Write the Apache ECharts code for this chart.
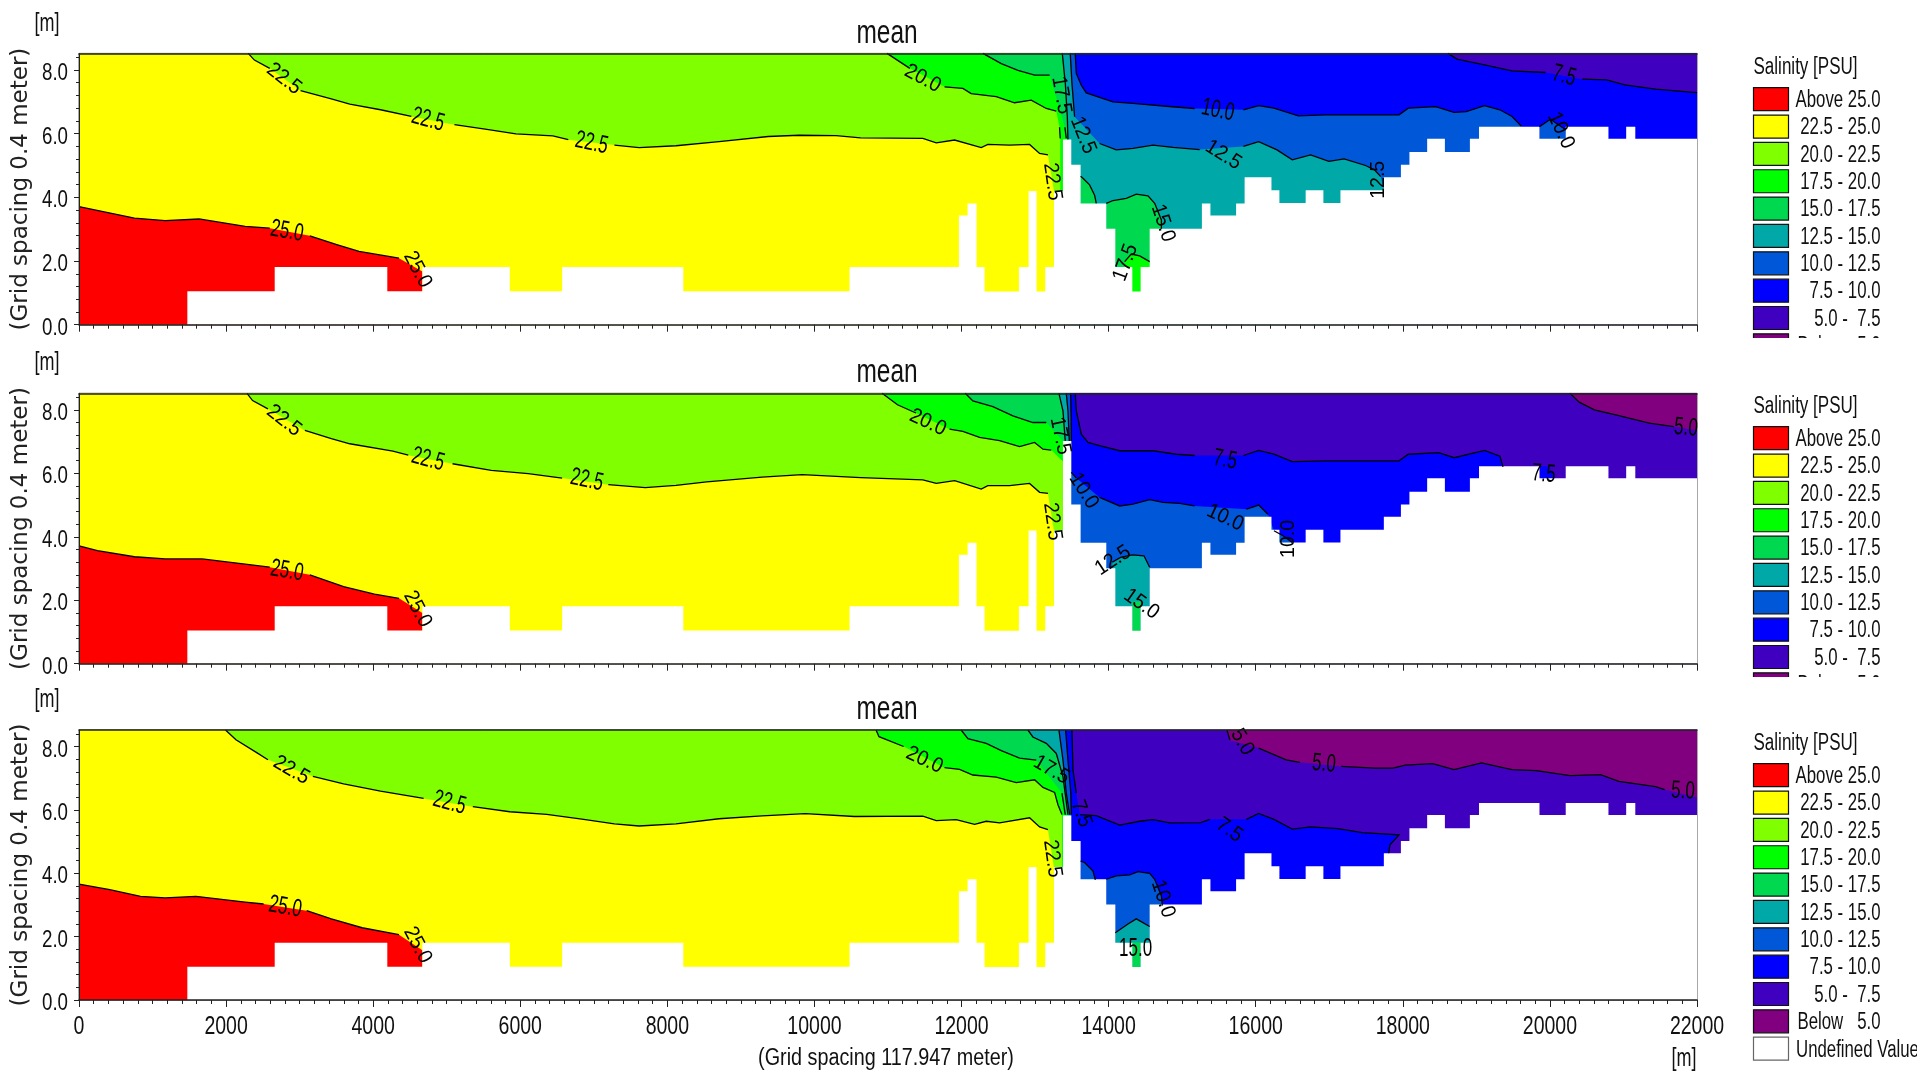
<!DOCTYPE html>
<html><head><meta charset="utf-8">
<style>html,body{margin:0;padding:0;background:#fff}#c{width:1917px;height:1080px}</style>
<script src="https://cdn.jsdelivr.net/npm/echarts@6/dist/echarts.min.js"></script>
</head><body><div id="c"></div>
<script>
const bandLabels = ['Above 25.0','22.5 - 25.0','20.0 - 22.5','17.5 - 20.0','15.0 - 17.5','12.5 - 15.0','10.0 - 12.5','7.5 - 10.0','5.0 -  7.5','Below   5.0','Undefined Value'];
const bandColors = ['#ff0000','#ffff00','#80ff00','#00ff00','#00d850','#00a8a8','#0058d8','#0000ff','#4000c0','#800080','#ffffff'];
const xTicksMajor = 2000, X_END = 22000, Y_TOP = 8.52;
const yTicksMajor = [0,2,4,6,8];
const yTicksMinor = [0.4,0.8,1.2,1.6,2.4,2.8,3.2,3.6,4.4,4.8,5.2,5.6,6.4,6.8,7.2,7.6,8.4];
const bedEdges  = [0,1473,2661,4192,4669,5858,6569,8217,10477,11964,12082,12204,12313,12780,12912,13020,13138,13256,13379,13492,13619,13968,14091,14322,14435,14558,15268,15384,15733,15849,16214,16322,16679,16920,17152,17742,17974,18090,18331,18572,18912,19036,19858,20215,20796,21037,21161,22000];
const bedLevels = [0,1.05,1.81,1.05,1.81,1.05,1.81,1.05,1.81,3.43,3.81,1.81,1.04,1.81,4.2,1.04,1.81,4.2,5.82,5.02,3.81,3.01,1.81,1.04,1.81,3.01,3.81,3.43,3.81,4.63,4.22,3.82,4.22,3.82,4.22,4.63,5.02,5.42,5.84,5.42,5.84,6.22,5.84,6.22,5.84,6.22,5.84];
const bedChannelEdge = 13379, bedChannelLevelMiddle = 7.02;

// Panel 1 contours (metres; null = gap for a contour label)
const p1Below25  = [[0,3.71],[753,3.35],[1171,3.27],[1632,3.32],[2259,3.09],[2594,3.03],null,[3138,2.79],[3515,2.51],[3808,2.3],[4351,2.09],null,[4669,1.67]];
const p1Below225 = [[2301,8.52],[2385,8.31],[2594,8.05],null,[3013,7.35],[3431,7.09],[3682,6.93],[4100,6.75],[4519,6.54],null,[5105,6.28],[5523,6.14],[5941,5.99],[6443,5.93],[6653,5.81],null,[7280,5.64],[7615,5.56],[8117,5.62],[8703,5.75],[9372,5.91],[9791,5.95],[10293,5.94],[10628,5.87],[11474,5.85],[11656,5.71],[11905,5.8],[12268,5.56],[12358,5.66],[12653,5.64],[12925,5.66],[13061,5.38],[13175,5.33],null,[13256,4.2]];
const p1Below20  = [[10987,8.52],[11297,8.05],null,[11769,7.47],[12018,7.42],[12131,7.26],[12472,7.16],[12721,6.97],[12948,7.05],[13152,6.79],[13288,6.71],null,[13332,6.2],[13342,5.85]];
const p1Below175 = [[12290,8.52],[12540,8.2],[12767,7.99],[12994,7.84],[13198,7.84],null,[13405,6.2],[13424,5.85]];
const p1Below15  = [[13370,8.52],[13411,7.57],[13438,6.53],[13447,5.82]];
const p1Below125 = [[13478,8.52],[13501,7.58],[13537,6.53],null,[13877,5.69],[14104,5.49],[14331,5.54],[14603,5.64],[14875,5.57],[15238,5.5],null,[15832,5.6],[16040,5.75],[16289,5.49],[16497,5.18],[16746,5.33],[16995,5.13],[17202,5.21],[17493,5.0],[17617,4.86],[17700,4.65],null,[17742,4.24]];
const p1Below10  = [[13546,8.52],[13560,7.89],[13628,7.52],[13696,7.28],[14059,7.0],[14331,6.95],[14785,6.86],[15170,6.79],null,[15832,6.75],[16040,6.88],[16248,6.8],[16580,6.56],[16953,6.59],[17949,6.59],[18074,6.8],[18447,6.85],[18696,6.67],[18862,6.69],[19111,6.88],[19319,6.75],[19485,6.54],[19609,6.24]];
const p1Below75  = [[18613,8.52],[18737,8.34],[19111,8.16],[19485,7.97],[19941,7.92],null,[20439,7.71],[20771,7.69],[21020,7.53],[21435,7.4],[22000,7.29]];
const p1Pocket15a = [[13619,4.66],[13651,4.6],[13741,4.39],[13809,4.07],[13832,3.81]];
const p1Pocket15b = [[13968,3.81],[14059,3.9],[14240,3.97],[14376,4.1],[14535,4.05],[14626,3.81],[14717,3.29],[14717,3.01]];
const p1Pocket175 = [[14218,1.98],[14308,2.22],[14422,2.16],[14558,1.98]];
const p1Pocket10  = [[19858,6.22],[20007,6.45],[20215,6.12]];
const p1LabelAnchors = [['22.5',2787,7.72],['22.5',4745,6.43],['22.5',6970,5.7],['25.0',2828,2.93],['25.0',4602,1.73],['20.0',11474,7.73],['17.5',13356,7.21],['12.5',13651,5.95],['22.5',13234,4.49],['10.0',15484,6.73],['12.5',15559,5.33],['12.5',17659,4.55],['7.5',20190,7.81],['10.0',20149,6.1],['15.0',14739,3.19],['17.5',14231,1.95]];
const p1LabelAngles = [-38,-15,-12,-10,-62,-28,-80,-68,-82,-12,-32,90,-15,-65,-72,70];

// Panel 2 contours
const p2Below25  = [[0,3.71],[251,3.56],[753,3.37],[1171,3.3],[1674,3.3],[2259,3.14],[2594,3.04],null,[3138,2.8],[3598,2.43],[4017,2.19],[4351,2.06],null,[4669,1.6]];
const p2Below225 = [[2284,8.52],[2360,8.29],[2569,8.03],null,[3071,7.35],[3431,7.09],[3682,6.93],[4268,6.7],[4477,6.57],null,[5079,6.3],[5606,6.09],[6108,5.99],[6569,5.85],null,[7197,5.64],[7698,5.55],[8117,5.62],[8535,5.73],[9288,5.88],[9832,5.96],[10628,5.86],[11474,5.79],[11656,5.68],[11906,5.77],[12268,5.5],[12358,5.61],[12653,5.61],[12925,5.68],[13061,5.4],[13175,5.37],null,[13256,4.19]];
const p2Below20  = [[10920,8.52],[11129,8.16],[11380,7.9],null,[11837,7.39],[12018,7.32],[12245,7.13],[12517,7.03],[12789,6.84],[12993,6.97],[13107,6.76],[13220,6.73],null,[13379,6.37]];
const p2Below175 = [[12050,8.52],[12154,8.28],[12426,8.1],[12698,7.81],[12970,7.6],[13152,7.6],null,[13379,7.02]];
const p2Below15  = [[13324,8.52],[13379,7.97],[13410,7.02]];
const p2Below125 = [[13424,8.52],[13447,7.97],[13465,7.02]];
const p2Below10  = [[13483,8.52],[13490,7.76],[13492,7.02],null,[13492,6.03],[13560,5.85],null,[13877,5.24],[14150,4.97],[14331,5.03],[14558,5.17],[14739,5.08],[14966,5.05],[15169,4.97],null,[15874,4.87],[16040,5.0],[16165,4.71],null,[16248,4.19],[16372,4.03],[16497,3.82]];
const p2Below75  = [[13546,8.52],[13560,7.97],[13628,7.23],[13719,6.97],[13877,6.87],[14150,6.71],[14603,6.71],[14921,6.6],[15169,6.56],null,[15833,6.56],[16040,6.72],[16248,6.6],[16497,6.37],[16953,6.39],[17949,6.39],[18074,6.6],[18489,6.65],[18697,6.49],[19112,6.72],[19320,6.54],[19362,6.2]];
const p2Below5   = [[20273,8.52],[20398,8.24],[20605,8.0],[20937,7.82],[21352,7.58],[21684,7.47],null,[22000,7.35]];
const p2Pocket125 = [[14050,3.2],[14163,3.35],[14321,3.43],[14480,3.4],[14558,3.04]];
const p2Pocket15  = [[14322,1.96],[14435,1.96]];
const p2Pocket75  = [[19858,6.22],[19990,6.22],[20065,5.8]];
const p2LabelAnchors = [['22.5',2787,7.66],['22.5',4745,6.43],['22.5',6904,5.78],['25.0',2828,2.92],['25.0',4602,1.72],['20.0',11542,7.6],['17.5',13342,7.18],['22.5',13234,4.48],['10.0',13660,5.45],['12.5',14059,3.25],['15.0',14444,1.88],['7.5',15584,6.42],['10.0',15584,4.6],['10.0',16438,3.93],['7.5',19916,5.97],['5.0',21850,7.43]];
const p2LabelAngles = [-38,-15,-12,-10,-62,-25,-78,-82,-58,33,-35,-10,-25,90,-5,-5];

// Panel 3 contours
const p3Below25  = [[0,3.66],[418,3.48],[837,3.27],[1171,3.22],[1590,3.27],[2259,3.09],[2510,3.03],null,[3096,2.82],[3431,2.56],[3849,2.28],[4351,2.06],null,[4669,1.57]];
const p3Below225 = [[1992,8.52],[2134,8.21],[2427,7.79],[2569,7.58],null,[3180,7.06],[3598,6.82],[4100,6.59],[4686,6.36],null,[5355,6.1],[5858,5.94],[6360,5.86],[6862,5.7],[7280,5.56],[7615,5.49],[8117,5.56],[8703,5.72],[9288,5.81],[9874,5.88],[10544,5.79],[11474,5.8],[11656,5.66],[11927,5.69],[12177,5.54],[12336,5.64],[12517,5.59],[12925,5.75],[13061,5.46],[13175,5.38],null,[13256,4.18]];
const p3Below20  = [[10837,8.52],[10878,8.31],[11213,8.0],null,[11769,7.33],[11973,7.28],[12154,7.1],[12472,7.03],[12744,6.86],[12993,6.95],[13107,6.71],[13265,6.55],[13311,6.16],[13365,5.85]];
const p3Below175 = [[11995,8.52],[12086,8.25],[12336,8.1],[12540,7.87],[12789,7.63],[13016,7.57],null,[13365,6.53],[13410,5.85]];
const p3Below15  = [[12902,8.52],[12970,8.3],[13152,8.1],[13288,7.78],[13379,7.05],[13447,5.85]];
const p3Below125 = [[13324,8.52],[13379,7.57],[13424,6.53],[13470,5.85]];
const p3Below10  = [[13415,8.52],[13447,7.57],[13485,6.53],[13492,5.85]];
const p3Below75  = [[13501,8.52],[13515,7.26],[13560,6.53],null,[13610,5.85],[13832,5.82],[14150,5.52],[14422,5.64],[14603,5.69],[14830,5.59],[15252,5.6],[15376,5.7],null,[15874,5.7],[16040,5.89],[16248,5.7],[16497,5.39],[16746,5.46],[17119,5.41],[17451,5.28],[17949,5.21],[17825,4.9],[17808,4.63]];
const p3Below5   = [[15608,8.52],[15650,8.2],null,[16040,7.95],[16414,7.58],[16600,7.5],null,[17162,7.37],[17617,7.32],[17866,7.32],[18032,7.41],[18406,7.46],[18697,7.27],[19070,7.48],[19485,7.27],[19817,7.24],[20273,7.08],[20688,7.11],[20937,6.9],[21435,6.73],[21560,6.64],null,[22000,6.4]];
const p3Pocket10a = [[13619,4.38],[13673,4.34],[13787,4.07],[13819,3.79]];
const p3Pocket10b = [[13968,3.81],[14104,3.92],[14286,3.95],[14399,4.05],[14558,4.0],[14626,3.81],[14717,3.29],[14730,2.98]];
const p3Pocket125 = [[14091,2.12],[14263,2.4],[14376,2.56],[14558,2.32]];
const p3Pocket15  = [[14322,1.82],[14435,1.82]];
const p3LabelAnchors = [['22.5',2887,7.25],['22.5',5037,6.22],['25.0',2803,2.93],['25.0',4602,1.73],['20.0',11496,7.57],['17.5',13220,7.26],['22.5',13234,4.46],['7.5',13628,5.88],['10.0',14739,3.19],['15.0',14367,1.6],['7.5',15641,5.36],['5.0',15816,8.14],['5.0',16928,7.45],['5.0',21809,6.59]];
const p3LabelAngles = [-30,-15,-10,-62,-25,-30,-82,-70,-72,0,-35,-60,-5,-3];

// which band each region paints: [band index, contour]; nested regions close through the lower right corner
const p1Nested = [[2,p1Below225],[3,p1Below20],[4,p1Below175],[5,p1Below15],[6,p1Below125],[7,p1Below10],[8,p1Below75]];
const p2Nested = [[2,p2Below225],[3,p2Below20],[4,p2Below175],[5,p2Below15],[6,p2Below125],[7,p2Below10],[8,p2Below75],[9,p2Below5]];
const p3Nested = [[2,p3Below225],[3,p3Below20],[4,p3Below175],[5,p3Below15],[6,p3Below125],[7,p3Below10],[8,p3Below75],[9,p3Below5]];
// higher-salinity pieces closing straight down
const p1Lower = [[0,p1Below25,1],[4,p1Pocket15a,1],[4,p1Pocket15b,1],[3,p1Pocket175,1],[6,p1Pocket10,1]];
const p2Lower = [[0,p2Below25,1],[5,p2Pocket125,1],[4,p2Pocket15,0],[7,p2Pocket75,0]];
const p3Lower = [[0,p3Below25,1],[6,p3Pocket10a,1],[6,p3Pocket10b,1],[5,p3Pocket125,1],[4,p3Pocket15,0]];

const GRID_LEFT = 79, GRID_WIDTH = 1618;
const panelTops = [53.4, 393.3, 730];
const panelBottoms = [324.7, 663.7, 1000];
const panelShift = [0, 339, 676];
const SANS = '"Liberation Sans",Arial,sans-serif';
const AXISC = '#222';

function bedPolygon(levels){
  const pts = [[0,0]];
  levels.forEach((v,i)=>{pts.push([bedEdges[i],v]);pts.push([bedEdges[i+1],v]);});
  pts.push([X_END,0]);
  return pts;
}
function clean(c){return c.filter(p=>p);}
function nestedPolygon(c){
  const p = clean(c), last = p[p.length-1];
  return last[0]>=X_END ? p.concat([[X_END,Y_TOP]]) : p.concat([[last[0],0],[X_END,0],[X_END,Y_TOP]]);
}
function lowerPolygon(c){
  const p = clean(c), last = p[p.length-1];
  return p.concat([[last[0],0],[p[0][0],0]]);
}
function segments(c){
  const out=[];let cur=[];
  c.forEach(p=>{if(p)cur.push(p);else{if(cur.length>1)out.push(cur);cur=[];}});
  if(cur.length>1)out.push(cur);
  return out;
}
function buildItems(nested,lower,bedLv,anchors,angles){
  const items=[{k:'poly',c:bandColors[1],pts:[[0,0],[X_END,0],[X_END,Y_TOP],[0,Y_TOP]]}];
  items.push({k:'poly',c:bandColors[lower[0][0]],pts:lowerPolygon(lower[0][1])});
  nested.forEach(r=>items.push({k:'poly',c:bandColors[r[0]],pts:nestedPolygon(r[1])}));
  lower.slice(1).forEach(r=>items.push({k:'poly',c:bandColors[r[0]],pts:lowerPolygon(r[1])}));
  items.push({k:'poly',c:'#ffffff',pts:bedPolygon(bedLv)});
  nested.concat(lower).forEach(r=>{
    if(r[2]===0)return;
    segments(r[1]).forEach(s=>items.push({k:'line',pts:s}));
  });
  anchors.forEach((a,i)=>items.push({k:'text',t:a[0],p:[a[1],a[2]],r:angles[i]}));
  return items;
}
const bedLevelsMiddle = bedLevels.map((v,i)=>bedEdges[i]===bedChannelEdge?bedChannelLevelMiddle:v);
const panelItems = [
  buildItems(p1Nested,p1Lower,bedLevels,p1LabelAnchors,p1LabelAngles),
  buildItems(p2Nested,p2Lower,bedLevelsMiddle,p2LabelAnchors,p2LabelAngles),
  buildItems(p3Nested,p3Lower,bedLevels,p3LabelAnchors,p3LabelAngles)
];
function renderItem(params,api){
  const it = panelItems[params.seriesIndex][params.dataIndex];
  if(it.k==='poly') return {type:'polygon',shape:{points:it.pts.map(p=>api.coord(p))},style:{fill:it.c,stroke:null}};
  if(it.k==='line') return {type:'polyline',shape:{points:it.pts.map(p=>api.coord(p))},style:{fill:null,stroke:'#000',lineWidth:1.3}};
  const q = api.coord(it.p), flat = Math.abs(it.r)<25;
  return {type:'text',x:q[0],y:q[1],rotation:it.r*Math.PI/180,scaleX:flat?0.68:0.93,
    style:{text:it.t,fill:'#000',align:'center',verticalAlign:'middle',
      font:(flat?'25px ':'21px ')+SANS}};
}

const grids=[],xAxes=[],yAxes=[],series=[],titles=[],graphics=[];
panelTops.forEach((top,i)=>{
  const last = i===2;
  grids.push({left:GRID_LEFT,width:GRID_WIDTH,top:top,height:panelBottoms[i]-top,show:true,borderColor:'#555',borderWidth:1,backgroundColor:'#fff',containLabel:false,outerBoundsMode:'none'});
  xAxes.push({type:'value',gridIndex:i,position:'bottom',min:0,max:X_END,interval:xTicksMajor,z:3,
    splitLine:{show:false},axisLine:{show:true,onZero:false,lineStyle:{color:AXISC,width:1.5}},
    axisTick:{show:true,length:7,inside:false,lineStyle:{color:AXISC}},
    minorTick:{show:true,splitNumber:10,length:4,lineStyle:{color:AXISC}},
    axisLabel:{show:last,margin:15,color:'#111',fontFamily:SANS,fontSize:25,showMinLabel:true,showMaxLabel:true,hideOverlap:false,formatter:v=>String(v)},
    name:last?'(Grid spacing 117.947 meter)':'',nameLocation:'middle',nameGap:47,nameTextStyle:{color:'#111',fontFamily:SANS,fontSize:23}});
  xAxes.push({type:'value',gridIndex:i,position:'top',min:0,max:X_END,z:3,show:true,splitLine:{show:false},
    axisLine:{show:true,onZero:false,lineStyle:{color:AXISC,width:1.5}},axisTick:{show:false},axisLabel:{show:false}});
  yAxes.push({type:'value',gridIndex:i,position:'left',min:0,max:Y_TOP,z:3,splitLine:{show:false},
    axisLine:{show:true,onZero:false,lineStyle:{color:AXISC,width:1}},
    axisTick:{show:true,length:5,customValues:yTicksMajor,lineStyle:{color:AXISC}},
    axisLabel:{show:true,margin:11,customValues:yTicksMajor,color:'#111',fontFamily:SANS,fontSize:24,formatter:v=>v.toFixed(1)},
    name:'(Grid spacing 0.4 meter)',nameLocation:'middle',nameRotate:90,nameGap:46,nameMoveOverlap:false,
    nameTextStyle:{color:'#222',fontFamily:'"DejaVu Sans",sans-serif',fontSize:23}});
  yAxes.push({type:'value',gridIndex:i,position:'left',min:0,max:Y_TOP,z:3,splitLine:{show:false},
    axisLine:{show:false},axisLabel:{show:false},
    axisTick:{show:true,length:3,customValues:yTicksMinor,lineStyle:{color:AXISC}}});
  series.push({type:'custom',coordinateSystem:'cartesian2d',xAxisIndex:2*i,yAxisIndex:2*i,silent:true,animation:false,clip:false,z:2,
    renderItem:renderItem,data:panelItems[i].map(()=>[0,0])});
  const s=panelShift[i];
  titles.push({text:'mean',left:882,top:12+s,textAlign:'center',
    textStyle:{color:'#111',fontFamily:SANS,fontWeight:'normal',fontSize:34}});
  graphics.push({type:'text',x:47,y:24+s,scaleX:0.72,style:{text:'[m]',font:'25px '+SANS,fill:'#111',align:'center',verticalAlign:'middle'}});
  graphics.push({type:'text',x:1753.5,y:68+s,scaleX:0.74,style:{text:'Salinity [PSU]',font:'23px '+SANS,fill:'#111',align:'left',verticalAlign:'middle'}});
  const count = last?11:10;
  for(let b=0;b<count;b++){
    const y=87.7+s+b*27.35;
    graphics.push({type:'rect',shape:{x:1753.5,y:y,width:35,height:23},style:{fill:bandColors[b],stroke:b===10?'#666':'#111',lineWidth:1.2}});
    graphics.push({type:'text',x:b===10?1796:1880.5,y:y+13,scaleX:0.73,style:{text:bandLabels[b],font:'23px '+SANS,fill:'#111',align:b===10?'left':'right',verticalAlign:'middle'}});
  }
  if(!last) graphics.push({type:'rect',shape:{x:1745,y:338+s,width:172,height:22},style:{fill:'#fff'}});
});
graphics.push({type:'text',x:1684,y:1059.5,scaleX:0.72,style:{text:'[m]',font:'25px '+SANS,fill:'#111',align:'center',verticalAlign:'middle'}});

const chart = echarts.init(document.getElementById('c'),null,{renderer:'canvas',width:1917,height:1080});
chart.setOption({animation:false,backgroundColor:'#fff',title:titles,grid:grids,xAxis:xAxes,yAxis:yAxes,series:series,graphic:{elements:graphics.map(g=>Object.assign({z:100},g))}});

// The reference's axis text is horizontally condensed: narrow the library's own axis and title labels.
// Y-axis labels sit in a rotated axis group, so they carry a compensating rotation of their own.
function condense(el){
  if(el.type==='text' && el.style && el.style.text!=null && el.scaleX===1){
    const t=String(el.style.text), isYLabel=/^\d\.\d$/.test(t);
    if(el.rotation && !isYLabel) return;
    el.scaleX = t==='mean' ? 0.72 : (t.charAt(0)==='(' ? 0.86 : 0.78);
    if(t.charAt(0)==='(') el.x -= 2;
    if(isYLabel) el.setStyle('y',3.5);
    el.markRedraw();
  }
}
chart.getZr().storage.getRoots().forEach(r=>{ if(r.traverse) r.traverse(condense); else condense(r); });
chart.getZr().refreshImmediately();
</script></body></html>
